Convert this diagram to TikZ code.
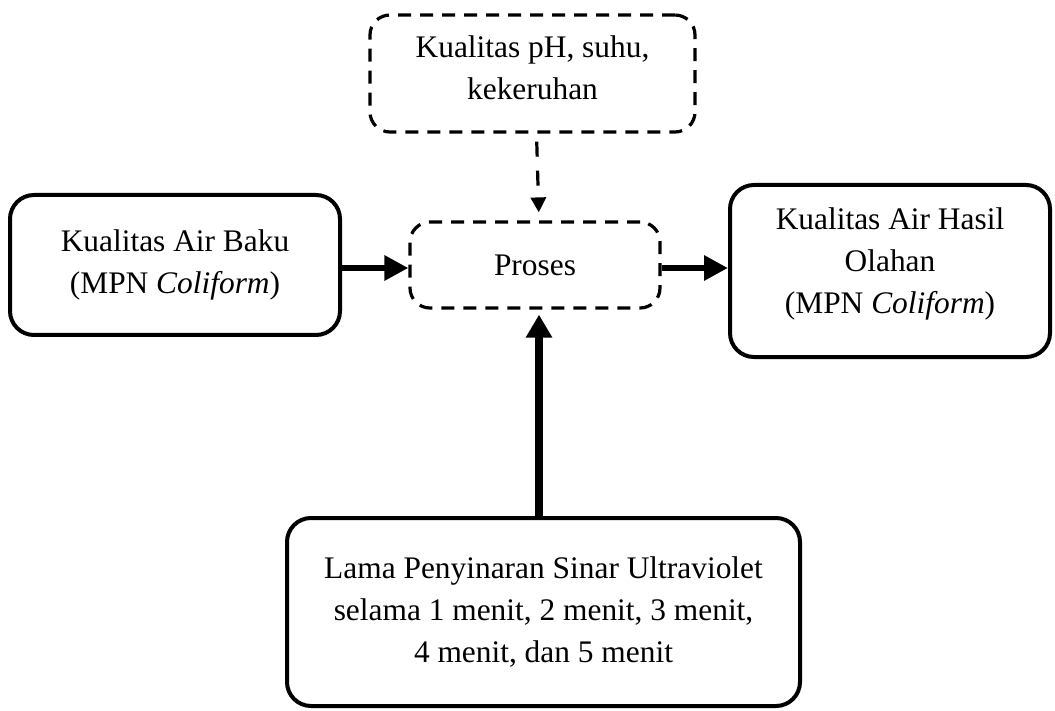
\documentclass[tikz,border=0pt]{standalone}
\usepackage{fontspec}
\setmainfont{Liberation Serif}
\usetikzlibrary{arrows.meta}
\begin{document}
\begin{tikzpicture}[x=1pt,y=-1pt,
  txt/.style={align=center, font=\fontsize{31.4}{42}\selectfont, inner sep=0pt},
  solidbox/.style={txt, draw, line width=4pt, rounded corners=24pt, rectangle},
  dashbox/.style={txt, draw, line width=3.2pt, rounded corners=20pt, rectangle,
    dash pattern=on 13pt off 9pt},
  bigarrow/.style={line width=6.5pt, -{Triangle[length=24pt,width=24pt]}},
  uparrow/.style={line width=8pt, -{Triangle[length=23pt,width=25pt]}},
  dasharrow/.style={line width=3.2pt, dash pattern=on 15pt off 14pt, -{Triangle[length=15pt,width=15pt]}}
]
\useasboundingbox (0,0) rectangle (1055,711);
\node[dashbox, minimum width=325pt, minimum height=117pt] (top) at (532.5,73.5) {};
\node[txt] (toptext) at (532.5,68) {Kualitas pH, suhu,\\kekeruhan};
\node[dashbox, minimum width=250pt, minimum height=86pt] (proses) at (535,265) {Proses};
\node[solidbox, minimum width=330pt, minimum height=140pt] (left) at (175,265) {Kualitas Air Baku\\(MPN \textit{Coliform})};
\node[solidbox, minimum width=320pt, minimum height=172pt] (right) at (890,271) {};
\node[txt] (righttext) at (890,264) {Kualitas Air Hasil\\Olahan\\(MPN \textit{Coliform})};
\node[solidbox, minimum width=513pt, minimum height=188pt] (bottom) at (543.5,612) {Lama Penyinaran Sinar Ultraviolet\\selama 1 menit, 2 menit, 3 menit,\\4 menit, dan 5 menit};
\draw[bigarrow] ([yshift=-3pt]left.east) -- ([yshift=-3pt]proses.west);
\draw[bigarrow] ([yshift=-3pt]proses.east) -- ([yshift=-3pt]proses.east -| right.west);
\draw[dasharrow, shorten <=8pt, shorten >=8pt] ([xshift=4pt]top.south) -- ([xshift=4pt]proses.north);
\draw[uparrow, shorten >=5pt] ([xshift=4pt]bottom.north -| proses.south) -- ([xshift=4pt]proses.south);
\end{tikzpicture}
\end{document}
